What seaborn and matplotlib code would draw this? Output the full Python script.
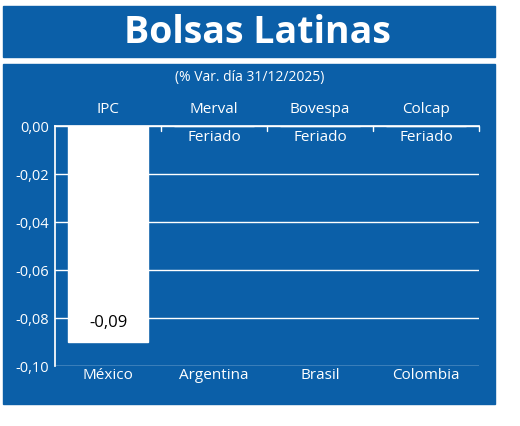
import matplotlib.pyplot as plt
import seaborn as sns
import pandas as pd
from matplotlib.patches import Rectangle

indices = ['IPC', 'Merval', 'Bovespa', 'Colcap']
paises = ['México', 'Argentina', 'Brasil', 'Colombia']
variacion = [-0.09, 0.0, 0.0, 0.0]
notas = ['-0,09', 'Feriado', 'Feriado', 'Feriado']
yticks = [0.0, -0.02, -0.04, -0.06, -0.08, -0.10]

azul = '#0b5fa8'
sns.set_theme(style='white')
plt.rcParams['font.family'] = ['Open Sans', 'DejaVu Sans']

fig = plt.figure(figsize=(5.2, 4.27), dpi=100)
fig.patch.set_facecolor('white')
# fondos azules
fig.add_artist(Rectangle((3/520, 1-58/427), 492/520, 51/427, color=azul, transform=fig.transFigure, zorder=0))
fig.add_artist(Rectangle((3/520, 1-405/427), 492/520, 340/427, color=azul, transform=fig.transFigure, zorder=0))
fig.text(257/520, 1-33/427, 'Bolsas Latinas', color='white', fontsize=27, fontweight='bold', ha='center', va='center')
fig.text(250/520, 1-77/427, '(% Var. día 31/12/2025)', color='white', fontsize=10, ha='center', va='center')

ax = fig.add_axes([55/520, 1-367/427, 424/520, 240/427])
ax.set_facecolor(azul)
df = pd.DataFrame({'indice': indices, 'var': variacion})
sns.barplot(data=df, x='indice', y='var', color='white', width=0.75, saturation=1, ax=ax, zorder=3)
ax.set_ylim(-0.10, 0.0)
ax.set_xlim(-0.5, 3.5)
ax.set_yticks(yticks)
ax.set_yticklabels([f'{v:.2f}'.replace('.', ',') for v in yticks], color='white', fontsize=10.5)
for y in yticks:
    ax.axhline(y, color='white', lw=1, zorder=1)
for s in ['top', 'left']:
    ax.spines[s].set_visible(True)
    ax.spines[s].set_color('white')
for s in ['right', 'bottom']:
    ax.spines[s].set_visible(False)
ax.set_xticks([])
ax.set_xlabel('')
ax.set_ylabel('')
ax.tick_params(axis='y', length=0, pad=4)
for x in [0.5, 1.5, 2.5, 3.5]:
    ax.plot([x, x], [0, -0.002], color='white', lw=1, clip_on=False)
for i, (ind, pais, nota) in enumerate(zip(indices, paises, notas)):
    ax.text(i, 0.004, ind, color='white', fontsize=11, ha='center', va='bottom')
    ax.text(i, -0.1035, pais, color='white', fontsize=11, ha='center', va='center')
    if variacion[i] == 0:
        ax.text(i, -0.0045, nota, color='white', fontsize=11, ha='center', va='center')
    else:
        ax.text(i, variacion[i] + 0.0085, nota, color='black', fontsize=12, ha='center', va='center', zorder=4)

fig.savefig('out.png', dpi=100)
